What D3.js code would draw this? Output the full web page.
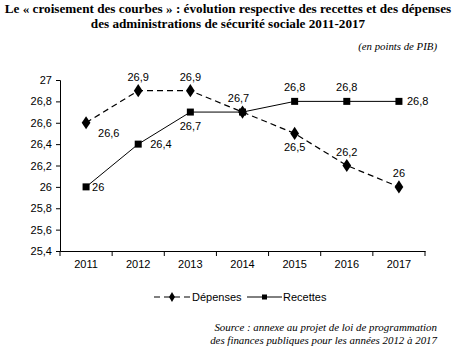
<!DOCTYPE html>
<html><head><meta charset="utf-8">
<script src="https://cdn.jsdelivr.net/npm/d3@7"></script>
<style>body{margin:0;background:#fff}svg{display:block}</style>
</head><body><svg id="c" width="459" height="357"></svg>
<script>
const years = ["2011","2012","2013","2014","2015","2016","2017"];
const depenses = [26.6, 26.9, 26.9, 26.7, 26.5, 26.2, 26.0];
const recettes = [26.0, 26.4, 26.7, 26.7, 26.8, 26.8, 26.8];
const yTicks = [25.4, 25.6, 25.8, 26.0, 26.2, 26.4, 26.6, 26.8, 27.0];
// label placement: [dx, dy] offsets per point
const depLabelPos = [[12,14],[0,-10],[0,-10],[-4,-10],[0,18],[0,-10],[0,-10]];
const recLabelPos = [[6,4],[12,4],[0,18],null,[0,-10],[0,-10],[8,4]];

const svg = d3.select("#c");
const fmt = v => d3.format(".1f")(v).replace(/\.0$/,"").replace(".",",");

const x = d3.scaleBand().domain(years).range([60, 425]);
const y = d3.scaleLinear().domain([25.4, 27]).range([251, 80]);

// Title
const title = svg.append("text").attr("text-anchor","middle")
  .style("font-family","'Liberation Serif','Times New Roman',serif").style("font-weight","bold").style("font-size","13.2px");
title.append("tspan").attr("x",228).attr("y",13).text("Le « croisement des courbes » : évolution respective des recettes et des dépenses");
title.append("tspan").attr("x",228).attr("y",28).text("des administrations de sécurité sociale 2011-2017");

svg.append("text").attr("x",437).attr("y",50).attr("text-anchor","end")
  .style("font-family","'Liberation Serif',serif").style("font-style","italic").style("font-size","10.8px")
  .text("(en points de PIB)");

// Axes
const yAxis = svg.append("g").attr("transform","translate(60,0)")
  .call(d3.axisLeft(y).tickValues(yTicks).tickSize(4).tickPadding(4).tickFormat(fmt));
const xAxis = svg.append("g").attr("transform","translate(0,251)")
  .call(d3.axisBottom(x).tickSize(0).tickPadding(9));
[yAxis, xAxis].forEach(g => {
  g.select(".domain").attr("stroke","#000");
  g.selectAll("text").style("font-family","'Liberation Sans',Arial,sans-serif").style("font-size","11px").attr("fill","#000");
  g.selectAll("line").attr("stroke","#000");
});
// x boundary ticks
const bounds = years.map(d => x(d)).concat([x.range()[1]]);
xAxis.selectAll(".btick").data(bounds).enter().append("line")
  .attr("x1",d=>d).attr("x2",d=>d).attr("y1",0).attr("y2",5).attr("stroke","#000");

const cx = d => x(d) + x.bandwidth()/2;

// Lines
const line = d3.line().x((d,i)=>cx(years[i])).y(d=>y(d));
svg.append("path").datum(recettes).attr("d",line).attr("fill","none").attr("stroke","#000").attr("stroke-width",1);
svg.append("path").datum(depenses).attr("d",line).attr("fill","none").attr("stroke","#000").attr("stroke-width",1.2).attr("stroke-dasharray","6,4");

// Markers
svg.selectAll(".sq").data(recettes).enter().append("rect")
  .attr("x",(d,i)=>cx(years[i])-3.5).attr("y",d=>y(d)-3.5).attr("width",7).attr("height",7).attr("fill","#000");
svg.selectAll(".dm").data(depenses).enter().append("path")
  .attr("d", d3.symbol().type(d3.symbolDiamond).size(50))
  .attr("transform",(d,i)=>`translate(${cx(years[i])},${y(d)}) scale(1.15,1)`).attr("fill","#000");

// Labels
const lblStyle = s => s.style("font-family","'Liberation Sans',Arial,sans-serif").style("font-size","11px").attr("fill","#000");
svg.selectAll(".dl").data(depenses).enter().append("text")
  .attr("x",(d,i)=>cx(years[i])+depLabelPos[i][0]).attr("y",(d,i)=>y(d)+depLabelPos[i][1])
  .attr("text-anchor",(d,i)=>depLabelPos[i][0]>5?"start":"middle").text(fmt).call(lblStyle);
svg.selectAll(".rl").data(recettes.map((v,i)=>({v,i})).filter(o=>recLabelPos[o.i])).enter().append("text")
  .attr("x",o=>cx(years[o.i])+recLabelPos[o.i][0]).attr("y",o=>y(o.v)+recLabelPos[o.i][1])
  .attr("text-anchor",o=>recLabelPos[o.i][0]>5?"start":"middle").text(o=>fmt(o.v)).call(lblStyle);

// Legend
const lg = svg.append("g");
lg.append("line").attr("x1",154).attr("x2",190).attr("y1",297).attr("y2",297).attr("stroke","#000").attr("stroke-dasharray","6,4").attr("stroke-width",1.2);
lg.append("path").attr("d",d3.symbol().type(d3.symbolDiamond).size(30)).attr("transform","translate(172,297)");
lg.append("text").attr("x",192).attr("y",301).text("Dépenses").call(lblStyle);
lg.append("line").attr("x1",247).attr("x2",282).attr("y1",297).attr("y2",297).attr("stroke","#000");
lg.append("rect").attr("x",262).attr("y",294.5).attr("width",5).attr("height",5);
lg.append("text").attr("x",283).attr("y",301).text("Recettes").call(lblStyle);

// Source
const src = svg.append("text").attr("text-anchor","end")
  .style("font-family","'Liberation Serif',serif").style("font-style","italic").style("font-size","10.9px");
src.append("tspan").attr("x",437).attr("y",331).text("Source : annexe au projet de loi de programmation");
src.append("tspan").attr("x",437).attr("y",344).text("des finances publiques pour les années 2012 à 2017");
</script></body></html>
